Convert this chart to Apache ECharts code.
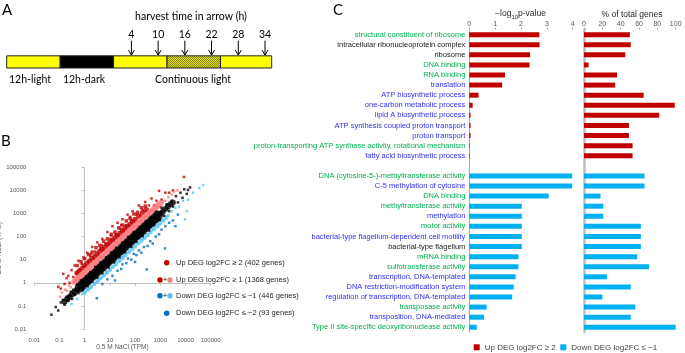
<!DOCTYPE html>
<html>
<head>
<meta charset="utf-8">
<title>DEG figure</title>
<script src="https://cdn.jsdelivr.net/npm/echarts@6.0.0/dist/echarts.min.js"></script>
<style>
  html, body { margin: 0; padding: 0; background: #fff; }
  #show_picture { width: 685px; height: 353px; }
</style>
</head>
<body>
<div id="show_picture"></div>
<script>
// ---- panel A: light schedule (hours, 0 = start of continuous light)
const phaseStart = [-24, -12, 0, 12, 24];
const phaseEnd = [-12, 0, 12, 24, 35.5];
const phaseKind = ['light', 'dark', 'light', 'subjective', 'light'];
const harvestHours = [4, 10, 16, 22, 28, 34];

// ---- panel B: scatter, values are log10(TPM)  [0.5 M, 2.5 M]
const tpmTicks = ['0.01', '0.1', '1', '10', '100', '1000', '10000', '100000'];
const upStrongCore = [[-0.3,0.42],[-0.2,0.52],[-0.1,0.63],[0.0,0.74],[0.1,0.85],[0.2,0.94],[0.3,1.05],[0.4,1.14],[0.5,1.24],[0.6,1.35],[0.7,1.44],[0.8,1.54],[0.9,1.65],[1.0,1.74],[1.1,1.84],[1.2,1.95],[1.3,2.04],[1.4,2.14],[1.5,2.25],[1.6,2.34],[1.7,2.44],[1.8,2.54],[1.9,2.64],[2.0,2.74],[2.15,2.88],[2.3,3.03],[2.45,3.16]];
const upStrongOuter = [[-0.3,0.75],[-0.15,0.92],[0.0,1.05],[0.15,1.22],[0.3,1.33],[0.45,1.52],[0.6,1.62],[0.75,1.8],[0.9,1.9],[1.05,2.1],[1.2,2.2],[1.35,2.38],[1.5,2.5],[1.65,2.68],[1.8,2.78],[1.95,2.98],[2.1,3.05],[2.25,3.25],[2.4,3.32]];
const upStrong = [[-1.05,-0.18],[-0.95,-0.25],[-0.85,0.39],[-0.8,-0.05],[-0.72,0.2],[-0.65,0.3],[-0.6,0.0],[-0.52,0.55],[-0.45,0.25],[-0.4,0.75],[-0.32,0.4],[-0.25,0.95],[-0.2,0.55],[-0.12,0.82],[-0.05,1.1],[0.02,0.7],[0.1,1.3],[0.15,0.9],[0.22,1.15],[0.3,1.55],[0.35,1.05],[0.42,1.35],[0.5,1.75],[0.55,1.2],[0.62,1.5],[0.7,1.9],[0.75,1.4],[0.82,1.7],[0.9,2.2],[0.95,1.6],[1.02,1.9],[1.1,2.45],[1.15,1.8],[1.22,2.1],[1.3,2.6],[1.35,2.0],[1.42,2.35],[1.5,2.75],[1.55,2.2],[1.62,2.5],[1.7,2.95],[1.75,2.45],[1.85,2.7],[1.9,3.1],[1.98,2.65],[2.05,2.95],[2.15,3.35],[2.2,2.9],[2.3,3.15],[2.4,3.5],[2.45,3.1],[2.55,3.35],[2.65,3.65],[2.75,3.35],[2.85,3.55],[2.95,3.98],[3.05,3.6],[3.2,3.9],[3.35,3.9],[3.5,4.0],[3.94,4.58],[0.25,1.25],[0.68,1.62],[1.05,2.05],[1.45,2.5],[1.8,2.85]];
const upMildCore = [[-0.4,0.05],[-0.3,0.15],[-0.2,0.25],[-0.1,0.35],[0.0,0.45],[0.1,0.55],[0.2,0.66],[0.3,0.75],[0.4,0.85],[0.5,0.95],[0.6,1.05],[0.7,1.16],[0.8,1.25],[0.9,1.35],[1.0,1.45],[1.1,1.55],[1.2,1.66],[1.3,1.75],[1.4,1.85],[1.5,1.95],[1.6,2.05],[1.7,2.15],[1.8,2.26],[1.9,2.35],[2.0,2.45],[2.1,2.55],[2.2,2.65],[2.3,2.75],[2.4,2.85],[2.5,2.95],[2.6,3.05],[2.7,3.14],[2.8,3.25],[2.9,3.34],[3.0,3.43]];
const upMild = [[-0.98,-0.6],[-0.9,-0.42],[-0.78,-0.3],[-0.7,-0.35],[-0.62,-0.12],[-0.55,-0.2],[-0.42,0.05],[-0.35,0.18],[-0.22,0.15],[-0.12,0.4],[0.0,0.35],[0.08,0.62],[0.2,0.56],[0.35,0.9],[0.45,0.8],[0.58,1.1],[0.68,1.05],[0.8,1.32],[0.92,1.25],[1.02,1.55],[1.12,1.45],[1.25,1.78],[1.35,1.7],[1.48,1.98],[1.58,1.9],[1.7,2.22],[1.82,2.15],[1.95,2.45],[2.05,2.38],[2.18,2.68],[2.28,2.6],[2.4,2.92],[2.52,2.85],[2.62,3.12],[2.75,3.1],[2.85,3.35],[2.98,3.3],[3.1,3.52],[3.2,3.55],[3.32,3.7],[3.45,3.82],[3.55,3.95],[3.68,4.0]];
const unchangedCore = [[-0.2,-0.21],[-0.1,-0.1],[0.0,0.01],[0.1,0.09],[0.2,0.2],[0.3,0.31],[0.4,0.39],[0.5,0.5],[0.6,0.61],[0.7,0.69],[0.8,0.8],[0.9,0.9],[1.0,1.01],[1.1,1.09],[1.2,1.2],[1.3,1.31],[1.4,1.39],[1.5,1.5],[1.6,1.6],[1.7,1.71],[1.8,1.79],[1.9,1.9],[2.0,2.01],[2.1,2.09],[2.2,2.2],[2.3,2.3],[2.4,2.41],[2.5,2.49],[2.6,2.6],[2.7,2.7],[2.8,2.79],[2.9,2.9]];
const unchangedEnds = [[-0.8,-0.82],[-0.7,-0.7],[-0.6,-0.62],[-0.5,-0.5],[-0.4,-0.41],[-0.3,-0.3],[3.0,3.0],[3.1,3.08],[3.2,3.2],[3.3,3.29],[3.4,3.4],[3.5,3.48]];
const unchanged = [[-1.32,-1.38],[-1.15,-1.05],[-1.05,-1.2],[-0.95,-0.85],[-0.87,-0.74],[-0.8,-0.95],[-0.72,-0.6],[-0.65,-0.78],[-0.61,-0.53],[-0.55,-0.38],[-0.5,-0.7],[-0.45,-0.3],[-0.38,-0.52],[-0.3,-0.08],[-0.25,-0.45],[-0.15,0.1],[-0.08,-0.3],[0.05,0.28],[0.12,-0.15],[0.22,0.45],[0.3,0.05],[0.42,0.68],[0.5,0.22],[0.62,0.88],[0.7,0.42],[0.85,1.1],[0.95,0.66],[1.05,1.32],[1.15,0.88],[1.25,1.52],[1.38,1.1],[1.5,1.75],[1.6,1.32],[1.72,1.98],[1.85,1.56],[1.95,2.2],[2.05,1.78],[2.18,2.42],[2.3,2.02],[2.42,2.66],[2.55,2.26],[2.62,2.85],[2.75,2.5],[2.85,3.08],[2.98,2.72],[3.05,3.25],[3.15,2.9],[3.25,3.4],[3.35,3.1],[3.45,3.55],[3.5,3.3],[3.62,3.75],[3.7,3.48],[3.8,3.9],[3.88,3.68],[3.95,4.05],[4.05,3.85],[4.18,4.13],[4.1,4.02]];
const downMildCore = [[0.0,-0.42],[0.12,-0.3],[0.25,-0.18],[0.38,-0.04],[0.5,0.07],[0.62,0.2],[0.75,0.33],[0.88,0.45],[1.0,0.57],[1.12,0.7],[1.25,0.82],[1.38,0.95],[1.5,1.07],[1.62,1.2],[1.75,1.33],[1.88,1.45],[2.0,1.57],[2.12,1.7],[2.25,1.82],[2.38,1.95],[2.5,2.07],[2.62,2.2],[2.75,2.33],[2.88,2.45],[3.0,2.57],[3.12,2.7],[3.25,2.82]];
const downMild = [[-0.52,-0.92],[-0.3,-0.7],[-0.1,-0.5],[0.0,-0.4],[0.1,-0.3],[0.2,-0.25],[0.28,-0.15],[0.4,-0.05],[0.5,0.02],[0.55,0.1],[0.65,0.2],[0.72,0.3],[0.85,0.4],[0.9,0.48],[1.0,0.55],[1.08,0.68],[1.2,0.75],[1.25,0.88],[1.38,0.95],[1.45,1.1],[1.55,1.15],[1.62,1.3],[1.75,1.35],[1.82,1.5],[1.95,1.55],[2.0,1.7],[2.12,1.75],[2.2,1.9],[2.32,1.92],[2.4,2.1],[2.52,2.12],[2.6,2.3],[2.72,2.32],[2.8,2.48],[2.92,2.52],[3.0,2.68],[3.12,2.72],[3.2,2.88],[3.32,2.92],[3.45,3.1],[3.6,3.25],[3.75,3.3],[3.9,3.55],[4.1,3.6],[4.3,3.9],[4.55,4.1],[4.7,4.23],[4.05,3.1],[3.98,2.75]];
const downStrong = [[0.48,-0.67],[0.9,0.15],[1.1,0.3],[1.3,0.52],[1.45,0.6],[1.5,0.8],[1.65,0.85],[1.72,1.05],[1.85,1.0],[1.95,1.25],[2.05,1.2],[2.15,1.4],[2.25,1.3],[2.35,1.55],[2.46,0.58],[2.5,1.6],[2.6,1.8],[2.7,1.7],[2.82,2.0],[2.95,2.1],[3.05,2.3],[3.19,1.49],[3.2,2.45],[3.35,2.6],[3.5,2.7],[3.6,2.45],[3.7,2.95],[1.2,0.1],[2.0,0.9],[0.7,-0.05]];

// ---- panel C: GO enrichment
const upTerms = ['structural constituent of ribosome', 'intracellular ribonucleoprotein complex', 'ribosome', 'DNA binding', 'RNA binding', 'translation', 'ATP biosynthetic process', 'one-carbon metabolic process', 'lipid A biosynthetic process', 'ATP synthesis coupled proton transport', 'proton transport', 'proton-transporting ATP synthase activity, rotational mechanism', 'fatty acid biosynthetic process'];
const upKind = ['g', 'k', 'k', 'g', 'g', 'b', 'b', 'b', 'b', 'b', 'b', 'g', 'b'];
const upLogP = [2.71, 2.72, 2.35, 2.33, 1.38, 1.27, 0.36, 0.13, 0.05, 0.05, 0.05, 0.02, 0.02];
const upPct = [50, 51, 45, 5, 36, 34, 65, 99, 82, 49, 49, 53, 53];
const downTerms = ['DNA (cytosine-5-)-methyltransferase activity', 'C-5 methylation of cytosine', 'DNA binding', 'methyltransferase activity', 'methylation', 'motor activity', 'bacterial-type flagellum-dependent cell motility', 'bacterial-type flagellum', 'mRNA binding', 'sulfotransferase activity', 'transcription, DNA-templated', 'DNA restriction-modification system', 'regulation of transcription, DNA-templated', 'transposase activity', 'transposition, DNA-mediated', 'Type II site-specific deoxyribonuclease activity'];
const downKind = ['g', 'b', 'g', 'g', 'b', 'g', 'b', 'k', 'g', 'g', 'b', 'b', 'b', 'g', 'b', 'g'];
const downLogP = [3.98, 3.98, 3.07, 2.03, 2.03, 2.03, 2.03, 2.03, 1.9, 1.9, 1.79, 1.72, 1.66, 0.67, 0.57, 0.29];
const downPct = [66, 66, 18, 21, 21, 62, 62, 62, 58, 71, 25, 51, 20, 56, 51, 100];

const upName = 'Up DEG log2FC ≥ 2';
const downName = 'Down DEG log2FC ≤ −1';

const font = 'Liberation Sans';
const fontA = 'Lato';

const terms = upTerms.concat([''], downTerms);
const kinds = upKind.concat([''], downKind);
const gap = new Array(downTerms.length + 1).fill(null);
const gapUp = new Array(upTerms.length + 1).fill(null);
const catIdx = terms.map((_, i) => String(i));

// hatched fill for the subjective night
let hatch = document.createElement('canvas');
hatch.width = 2; hatch.height = 2;
let hc = hatch.getContext('2d');
hc.fillStyle = '#dede00'; hc.fillRect(0, 0, 2, 2);
hc.fillStyle = '#86860a'; hc.fillRect(0, 0, 1, 1); hc.fillRect(1, 1, 1, 1);

function txt(text, x, y, size, opts) {
    let o = opts || {};
    return {
        type: 'text', x: x, y: y, silent: true,
        rotation: o.rotation || 0,
        style: {
            text: text, fontSize: size, fontFamily: o.family || font,
            fill: o.fill || '#000',
            align: o.align || 'left', textAlign: o.align || 'left',
            verticalAlign: 'middle', textVerticalAlign: 'middle'
        }
    };
}

function dots(data, color, size, symbol) {
    return {
        type: 'scatter', xAxisIndex: 1, yAxisIndex: 1, data: data,
        symbol: symbol, symbolSize: size, silent: true,
        itemStyle: { color: color }
    };
}

function legendAt(name, left) {
    return {
        data: [name], left: left, top: 343.3, padding: 0,
        itemWidth: 6, itemHeight: 6, icon: 'rect', selectedMode: false,
        textStyle: { fontSize: 8, color: '#404040', fontFamily: font }
    };
}

let myChart = echarts.init(document.getElementById('show_picture'), null, { renderer: 'canvas' });

const bAxisCommon = {
    type: 'value', min: -2, max: 5, interval: 1,
    axisLine: { show: true, lineStyle: { color: '#bfbfbf' } },
    axisTick: { show: true, length: 3, lineStyle: { color: '#bfbfbf' } },
    splitLine: { show: false },
    axisLabel: { fontSize: 6, color: '#595959', fontFamily: font, formatter: v => tpmTicks[Math.round(v) + 2] },
    nameLocation: 'middle',
    nameTextStyle: { fontSize: 6.5, color: '#595959', fontFamily: font }
};

const richLabel = {
    g: { color: '#00b050', fontSize: 7.5, fontFamily: font },
    b: { color: '#2f2ff5', fontSize: 7.5, fontFamily: font },
    k: { color: '#1a1a1a', fontSize: 7.5, fontFamily: font }
};

let option = {
    animation: false,
    backgroundColor: '#fff',
    grid: [
        { left: 6.7, top: 30, width: 265, height: 38, outerBoundsMode: 'none' },
        { left: 34.3, top: 167.3, width: 176.4, height: 161.7, outerBoundsMode: 'none' },
        { left: 469.3, top: 29.6, width: 103.4, height: 302.7, outerBoundsMode: 'none' },
        { left: 584, top: 29.6, width: 91.7, height: 302.7, outerBoundsMode: 'none' }
    ],
    xAxis: [
        { gridIndex: 0, type: 'value', min: -24, max: 35.5, show: false },
        Object.assign({}, bAxisCommon, { gridIndex: 1, name: '0.5 M NaCl (TPM)', nameGap: 15 }),
        {
            gridIndex: 2, type: 'value', position: 'top', min: 0, max: 4, interval: 1,
            axisLine: { show: false }, splitLine: { show: false },
            axisTick: { show: true, length: 2, lineStyle: { color: '#a6a6a6' } },
            axisLabel: { fontSize: 7, color: '#595959', fontFamily: font, margin: 2 }
        },
        {
            gridIndex: 3, type: 'value', position: 'top', min: 0, max: 100, interval: 20,
            axisLine: { show: false }, splitLine: { show: false },
            axisTick: { show: true, length: 2, lineStyle: { color: '#a6a6a6' } },
            axisLabel: { fontSize: 7, color: '#595959', fontFamily: font, margin: 2 }
        }
    ],
    yAxis: [
        { gridIndex: 0, type: 'value', min: 0, max: 1, show: false },
        Object.assign({}, bAxisCommon, { gridIndex: 1, name: '2.5 M NaCl (TPM)', nameGap: 27, nameRotate: 90 }),
        {
            gridIndex: 2, type: 'category', inverse: true, data: catIdx,
            axisLine: { show: true, lineStyle: { color: '#a6a6a6', width: 1 } },
            axisTick: { show: false },
            axisLabel: {
                interval: 0, margin: 4, fontSize: 7.5, fontFamily: font,
                formatter: (v, i) => terms[i] ? '{' + kinds[i] + '|' + terms[i] + '}' : '',
                rich: richLabel
            }
        },
        {
            gridIndex: 3, type: 'category', inverse: true, data: catIdx,
            axisLine: { show: true, lineStyle: { color: '#bfbfbf', width: 2.5 } },
            axisTick: { show: false }, axisLabel: { show: false }
        }
    ],
    legend: [legendAt(upName, 473.7), legendAt(downName, 560.3)],
    series: [
        {
            type: 'custom', xAxisIndex: 0, yAxisIndex: 0, silent: true,
            data: phaseStart.map((s, i) => [s, phaseEnd[i]]),
            encode: { x: [0, 1] },
            renderItem: (params, api) => {
                let a = api.coord([api.value(0), 0]);
                let b = api.coord([api.value(1), 0.32]);
                let kind = phaseKind[params.dataIndex];
                let fill = kind === 'dark' ? '#000' : (kind === 'subjective' ? { image: hatch, repeat: 'repeat' } : '#ffff00');
                return {
                    type: 'rect',
                    shape: { x: a[0], y: b[1], width: b[0] - a[0], height: a[1] - b[1] },
                    style: { fill: fill, stroke: '#222', lineWidth: 1 }
                };
            }
        },
        {
            type: 'custom', xAxisIndex: 0, yAxisIndex: 0, silent: true,
            data: harvestHours.map(h => [h]),
            encode: { x: 0 },
            renderItem: (params, api) => {
                let h = api.value(0);
                let tip = api.coord([h, 0.34]);
                let top = api.coord([h, 0.72]);
                let lab = api.coord([h, 0.87]);
                return {
                    type: 'group',
                    children: [
                        { type: 'line', shape: { x1: tip[0], y1: top[1], x2: tip[0], y2: tip[1] }, style: { stroke: '#000', lineWidth: 1 } },
                        { type: 'polyline', shape: { points: [[tip[0] - 3, tip[1] - 5], [tip[0], tip[1]], [tip[0] + 3, tip[1] - 5]] }, style: { stroke: '#000', lineWidth: 1, fill: null } },
                        { type: 'text', x: lab[0], y: lab[1], style: { text: String(h), fontSize: 10.5, fontFamily: fontA, fill: '#000', align: 'center', verticalAlign: 'middle' } }
                    ]
                };
            }
        },
        dots(upStrong, '#c00000', 2.5, 'rect'),
        dots(upStrongOuter, '#c00000', 3.5, 'rect'),
        dots(upStrongCore, '#c00000', 5.5, 'circle'),
        dots(upMild, '#ff7c80', 2.5, 'rect'),
        dots(upMildCore, '#ff7c80', 6.5, 'circle'),
        dots(downMild, '#5bc5f2', 2.5, 'rect'),
        dots(downMildCore, '#5bc5f2', 4.5, 'circle'),
        dots(unchangedEnds, '#000000', 6, 'circle'),
        dots(unchangedCore, '#000000', 10, 'circle'),
        dots(unchanged, '#000000', 2.5, 'rect'),
        dots(downStrong, '#0070c0', 2.5, 'rect'),
        {
            name: upName, type: 'bar', xAxisIndex: 2, yAxisIndex: 2, barWidth: 5, barGap: '-100%',
            data: upLogP.concat(gap), itemStyle: { color: '#c00000' }, silent: true
        },
        {
            name: downName, type: 'bar', xAxisIndex: 2, yAxisIndex: 2, barWidth: 5, barGap: '-100%',
            data: gapUp.concat(downLogP), itemStyle: { color: '#00b0f0' }, silent: true
        },
        {
            name: upName, type: 'bar', xAxisIndex: 3, yAxisIndex: 3, barWidth: 5, barGap: '-100%',
            data: upPct.concat(gap), itemStyle: { color: '#c00000' }, silent: true
        },
        {
            name: downName, type: 'bar', xAxisIndex: 3, yAxisIndex: 3, barWidth: 5, barGap: '-100%',
            data: gapUp.concat(downPct), itemStyle: { color: '#00b0f0' }, silent: true
        }
    ],
    graphic: [
        txt('A', 2, 10, 15, { family: fontA }),
        txt('B', 1, 141, 15, { family: fontA }),
        txt('C', 333, 10, 15, { family: fontA }),
        txt('harvest time in arrow (h)', 191, 17, 10.5, { family: fontA, align: 'center' }),
        txt('12h-light', 30, 80, 10.5, { family: fontA, align: 'center' }),
        txt('12h-dark', 84, 80, 10.5, { family: fontA, align: 'center' }),
        txt('Continuous light', 193, 80, 10.5, { family: fontA, align: 'center' }),
        {
            type: 'text', x: 520.5, y: 15, silent: true,
            style: {
                text: '{n|−log}{s|10}{n|p-value}',
                align: 'center', textAlign: 'center', verticalAlign: 'middle', textVerticalAlign: 'middle',
                rich: {
                    n: { fontSize: 8.5, fontFamily: font, fill: '#262626', color: '#262626', lineHeight: 11, verticalAlign: 'top' },
                    s: { fontSize: 6, fontFamily: font, fill: '#262626', color: '#262626', lineHeight: 11, verticalAlign: 'bottom', padding: [4, 0, 0, 0] }
                }
            }
        },
        txt('% of total genes', 632, 15, 8.5, { align: 'center', fill: '#262626' }),
        // panel B legend
        { type: 'circle', shape: { cx: 166.7, cy: 262.7, r: 2.7 }, style: { fill: '#c00000' }, silent: true },
        txt('Up DEG log2FC ≥ 2 (402 genes)', 176, 262.7, 7.5, { fill: '#262626' }),
        { type: 'circle', shape: { cx: 160, cy: 280, r: 2.7 }, style: { fill: '#c00000' }, silent: true },
        txt('+', 165, 280, 7, { align: 'center' }),
        { type: 'circle', shape: { cx: 170, cy: 280, r: 2.7 }, style: { fill: '#ff7c80' }, silent: true },
        txt('Up DEG log2FC ≥ 1 (1368 genes)', 176, 280, 7.5, { fill: '#262626' }),
        { type: 'circle', shape: { cx: 160, cy: 295.7, r: 2.7 }, style: { fill: '#0070c0' }, silent: true },
        txt('+', 165, 295.7, 7, { align: 'center' }),
        { type: 'circle', shape: { cx: 170, cy: 295.7, r: 2.7 }, style: { fill: '#5bc5f2' }, silent: true },
        txt('Down DEG log2FC ≤ −1 (446 genes)', 176, 295.7, 7.5, { fill: '#262626' }),
        { type: 'circle', shape: { cx: 166.7, cy: 313.3, r: 2.7 }, style: { fill: '#0070c0' }, silent: true },
        txt('Down DEG log2FC ≤ −2 (93 genes)', 176, 313.3, 7.5, { fill: '#262626' })
    ]
};

option && myChart.setOption(option);
</script>
</body>
</html>
